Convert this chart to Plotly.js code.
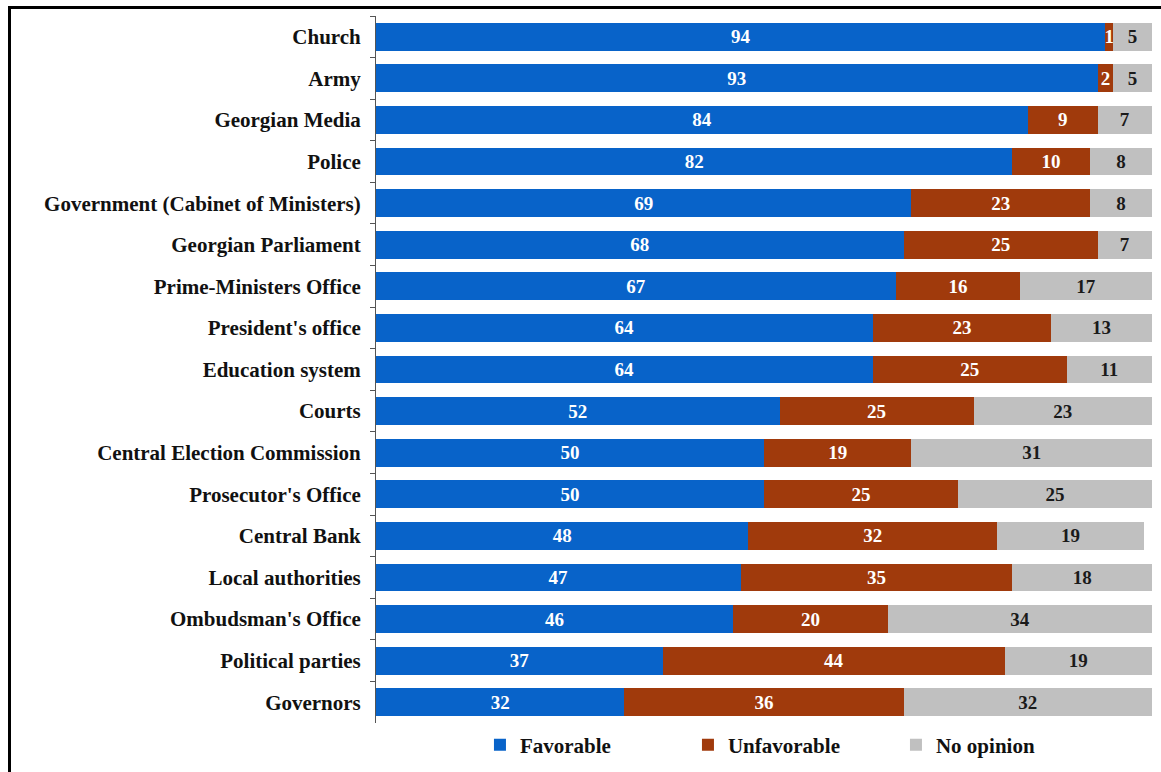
<!DOCTYPE html>
<html>
<head>
<meta charset="utf-8">
<script src="https://cdn.plot.ly/plotly-3.0.1.min.js"></script>
<style>
html,body{margin:0;padding:0;background:#fff;}
#wrap{position:relative;width:1161px;height:772px;overflow:hidden;}
#chart{position:absolute;left:0;top:0;width:1161px;height:772px;}
#frame{position:absolute;left:8px;top:6px;width:1200px;height:800px;border-top:3px solid #000;border-left:3px solid #000;pointer-events:none;}
</style>
</head>
<body>
<div id="wrap"><div id="chart"></div><div id="frame"></div></div>
<script>
const categories = ["Church","Army","Georgian Media","Police","Government (Cabinet of Ministers)","Georgian Parliament","Prime-Ministers Office","President's office","Education system","Courts","Central Election Commission","Prosecutor's Office","Central Bank","Local authorities","Ombudsman's Office","Political parties","Governors"];
const favorable   = [94,93,84,82,69,68,67,64,64,52,50,50,48,47,46,37,32];
const unfavorable = [1,2,9,10,23,25,16,23,25,25,19,25,32,35,20,44,36];
const noOpinion   = [5,5,7,8,8,7,17,13,11,23,31,25,19,18,34,19,32];
const seriesNames = ["Favorable","Unfavorable","No opinion"];

const serif = "'Liberation Serif','Times New Roman',serif";
function mk(name, vals, color, txtColor){
  return {
    type:'bar', orientation:'h', name:name,
    y:categories, x:vals,
    text:vals.map(String), textposition:'inside', insidetextanchor:'middle', textangle:0,
    textfont:{family:serif, size:19, color:txtColor, weight:'bold'},
    marker:{color:color, line:{width:0}},
    hoverinfo:'x+y'
  };
}
const data = [
  mk(seriesNames[0], favorable, '#0863C9', '#ffffff'),
  mk(seriesNames[1], unfavorable, '#A03A0C', '#ffffff'),
  mk(seriesNames[2], noOpinion, '#C0C0C0', '#1a1a1a')
];
const layout = {
  width:1161, height:772,
  margin:{l:376, r:9, t:16, b:49},
  barmode:'stack', bargap:0.33,
  paper_bgcolor:'rgba(0,0,0,0)', plot_bgcolor:'rgba(0,0,0,0)',
  uniformtext:{mode:'show', minsize:19},
  xaxis:{range:[0,100], visible:false, fixedrange:true},
  yaxis:{autorange:'reversed', type:'category', showline:true, linecolor:'#555', linewidth:1,
         ticks:'outside', tickson:'boundaries', ticklen:5, tickcolor:'#555',
         showgrid:false, zeroline:false, ticklabelstandoff:10,
         tickfont:{family:serif, size:21, color:'#111', weight:'bold'}},
  showlegend:true,
  legend:{orientation:'h', xref:'container', yref:'container', x:0.4134, xanchor:'left', y:0.035, yanchor:'middle',
          entrywidth:163, entrywidthmode:'pixels', traceorder:'normal',
          font:{family:serif, size:21, color:'#111', weight:'bold'}, itemsizing:'constant'},
  font:{family:serif}
};
Plotly.newPlot('chart', data, layout, {displayModeBar:false, staticPlot:true});
</script>
</body>
</html>
